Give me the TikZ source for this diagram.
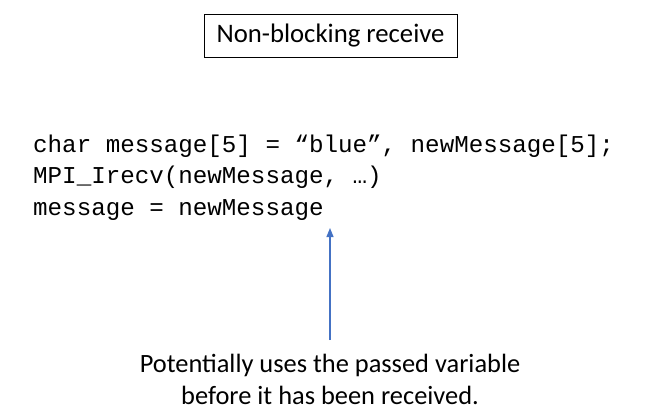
\documentclass[tikz,border=0pt]{standalone}
\usepackage{fontspec}
\setmainfont{Carlito}
\newfontfamily\codefont{Liberation Mono}
\usetikzlibrary{arrows.meta}
\definecolor{arrowblue}{HTML}{4472C4}
\tikzset{
  titlebox/.style={draw=black, line width=1pt, minimum width=253pt, minimum height=43pt, inner sep=0pt, font=\fontsize{26.7}{30}\selectfont},
  codeline/.style={anchor=base west, inner sep=0pt, font=\codefont\fontsize{24.2}{28}\selectfont},
  notetext/.style={anchor=base, inner sep=0pt, font=\fontsize{26.4}{32}\selectfont},
  pointer/.style={draw=arrowblue, line width=1.2pt, -{Triangle[length=9pt,width=7pt]}}
}
\begin{document}
\begin{tikzpicture}[x=1pt,y=-1pt]
\useasboundingbox (0,0) rectangle (657,418);
\node[titlebox] (title) at (330.5,35.5) {Non-blocking receive};
\node[codeline] (l1) at (33,152) {char message[5] = “blue”, newMessage[5];};
\node[codeline] (l2) at (33,183.5) {MPI\_Irecv(newMessage, …)};
\node[codeline] (l3) at (33,215) {message = newMessage};
\node[notetext] (note1) at (330,372) {Potentially uses the passed variable};
\node[notetext] (note2) at (330,404) {before it has been received.};
\coordinate (tail) at (330,340);
\coordinate (tip) at (330,228);
\draw[pointer] (tail) -- (tip);
\end{tikzpicture}
\end{document}
